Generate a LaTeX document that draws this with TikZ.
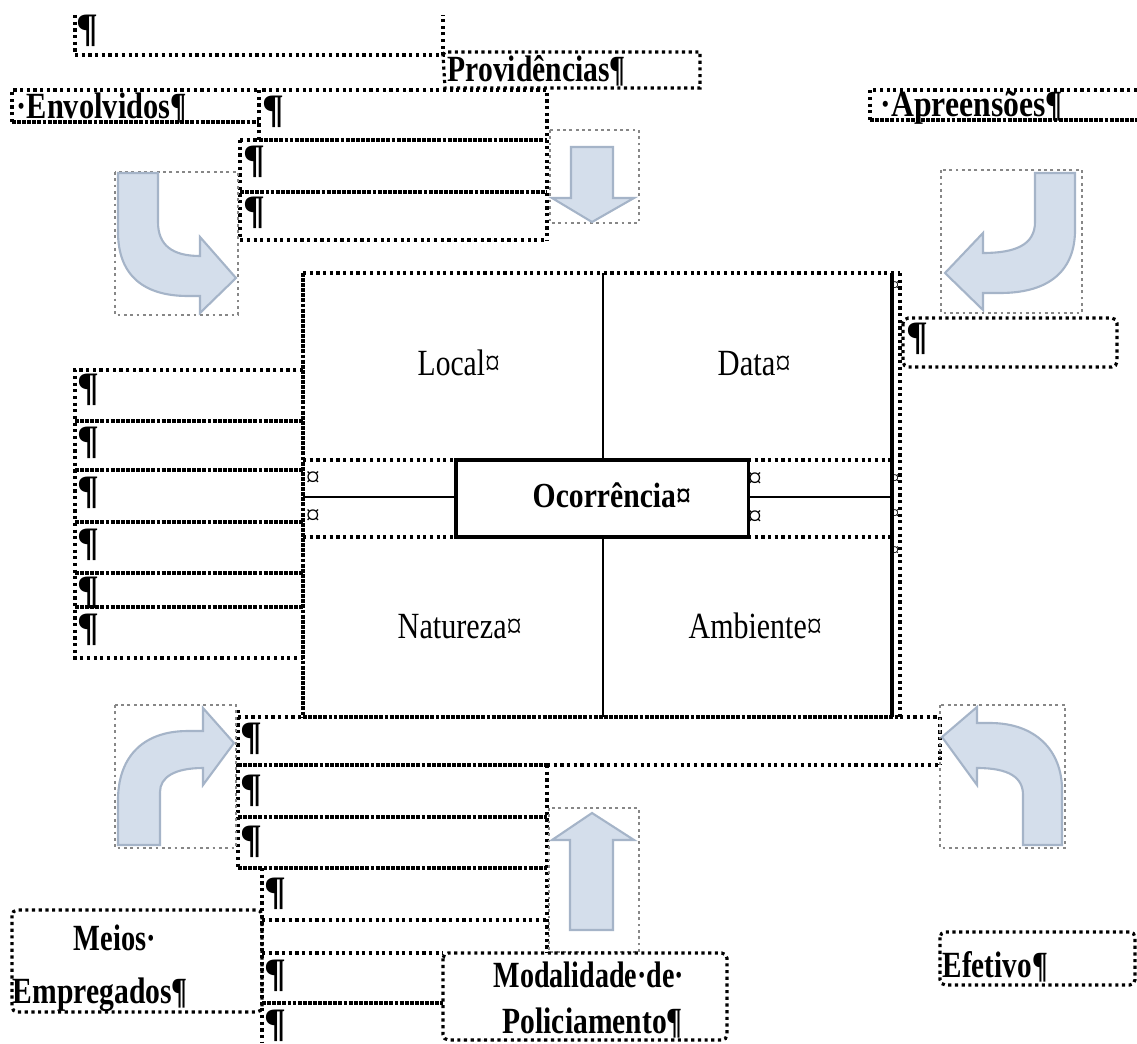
\documentclass[tikz,border=0pt]{standalone}
\usepackage{fontspec}
\setmainfont{Liberation Serif}
\usepackage{graphicx}
\newdimen\pxu \pxu=0.28453pt
\newcommand{\fitx}[2]{\resizebox{#1\pxu}{\height}{#2}}
\definecolor{arrowfill}{RGB}{212,222,235}
\definecolor{arrowedge}{RGB}{165,180,200}
\definecolor{framegray}{RGB}{135,135,135}
\tikzset{
  dotb/.style={densely dotted, line width=0.9pt},
  wavy/.style={line width=1.1pt, dash pattern=on 1.1pt off 0.35pt},
  tline/.style={line width=0.8pt},
  picframe/.style={draw=framegray, densely dotted, line width=0.8pt},
  bendarrow/.style={fill=arrowfill, draw=arrowedge, line width=0.6pt},
  lbl/.style={anchor=base west, inner sep=0pt, font=\fontsize{10.5}{12}\selectfont\bfseries},
  reg/.style={anchor=base west, inner sep=0pt, font=\fontsize{10.5}{12}\selectfont},
  pil/.style={anchor=north west, inner sep=0pt, font=\fontsize{11.5}{13}\selectfont\bfseries},
  cur/.style={inner sep=0pt, font=\fontsize{8}{9}\selectfont},
}
\begin{document}
\begin{tikzpicture}[x=0.01cm, y=-0.01cm]
\fill[white] (0,0) rectangle (1137,1043);
\useasboundingbox (0,0) rectangle (1137,1043);

% ---------- top area ----------
\draw[dotb] (75,15) -- (75,55) -- (443,55) -- (443,15);
\node[pil] (ptl) at (76,14) {¶};
\draw[dotb] (443,55) -- (445,52) -- (700,52) -- (700,88) -- (445,88) -- (443,55);
\node[lbl] (prov) at (447,82) {\fitx{178}{Providências¶}};

\draw[dotb] (12,122) -- (12,90) -- (259,90);
\draw[wavy] (12,122) -- (259,122);
\node[lbl] (env) at (16,119) {\fitx{170}{·Envolvidos¶}};

\draw[dotb] (259,140) -- (259,90) -- (547,90) -- (547,240);
\draw[wavy] (259,140) -- (547,140);
\draw[wavy] (240,192) -- (547,192);
\draw[dotb] (240,140) -- (240,240) -- (547,240);
\draw[dotb] (240,140) -- (259,140);
\node[pil] (pa) at (262,95) {¶};
\node[pil] (pb) at (243,145) {¶};
\node[pil] (pc) at (243,196) {¶};

% down arrow picture
\draw[picframe] (550,130) rectangle (639,223);
\draw[bendarrow] (571,147) -- (613,147) -- (613,198) -- (634,198) -- (592,222) -- (552,198) -- (571,198) -- cycle;

% top-left bent arrow
\draw[picframe] (115,172) rectangle (238,315);
\draw[bendarrow] (118,173) -- (158,173) -- (158,222) .. controls (158,245) and (172,256) .. (200,256) -- (200,237) -- (236,278) -- (200,313) -- (200,296) -- (188,296) .. controls (140,296) and (118,272) .. (118,232) -- cycle;

% Apreensoes
\draw[dotb] (1137,90) -- (870,90) -- (870,120);
\draw[wavy] (870,120) -- (1137,120);
\node[lbl] (apr) at (880,117) {\fitx{182}{·Apreensões¶}};

% top-right bent arrow
\draw[picframe] (941,170) rectangle (1082,313);
\draw[bendarrow] (1075,173) -- (1035,173) -- (1035,222) .. controls (1035,245) and (1015,253) .. (983,253) -- (983,233) -- (945,273) -- (983,310) -- (983,293) -- (1000,293) .. controls (1050,293) and (1075,270) .. (1075,230) -- cycle;

% right small box
\draw[dotb, rounded corners=1.5pt] (903,318) rectangle (1117,367);
\node[pil] (pr) at (906,322) {¶};

% ---------- table ----------
\draw[dotb] (303,273) -- (900,273);
\draw[wavy] (303,273) -- (303,717);
\draw[wavy] (303,717) -- (900,717);
\draw[line width=1.3pt] (892,273) -- (892,717);
\draw[dotb] (900,273) -- (900,717);
\draw[tline] (603,273) -- (603,460);
\draw[tline] (603,537) -- (603,717);
\draw[dotb] (303,460) -- (456,460);
\draw[dotb] (303,537) -- (456,537);
\draw[dotb] (748,460) -- (892,460);
\draw[dotb] (748,537) -- (892,537);
\draw[tline] (303,497) -- (456,497);
\draw[tline] (748,497) -- (892,497);
\node[draw, line width=0.9pt, minimum width=2.92cm, minimum height=0.77cm, inner sep=0pt] (occbox) at (602,498.5) {};
\node[lbl, font=\fontsize{10}{11}\selectfont\bfseries] (occ) at (532,507) {\fitx{158}{Ocorrência¤}};
\node[reg] (local) at (417,376) {\fitx{82}{Local¤}};
\node[reg] (data) at (717,376) {\fitx{73}{Data¤}};
\node[reg] (nat) at (397,638) {\fitx{124}{Natureza¤}};
\node[reg] (amb) at (688,638) {\fitx{133}{Ambiente¤}};
\node[cur] (c1) at (313,479) {¤};
\node[cur] (c2) at (313,517) {¤};
\node[cur] (c3) at (755,480) {¤};
\node[cur] (c4) at (755,518) {¤};
\foreach \yy [count=\i] in {285,478,513,550}
  \node[inner sep=0pt, font=\fontsize{5}{6}\selectfont, rotate=90] (rm\i) at (896,\yy) {¤};

% ---------- left stack ----------
\draw[dotb] (303,370) -- (75,370) -- (75,658) -- (303,658);
\foreach \yy in {421,470,522,573,607}
  \draw[wavy] (75,\yy) -- (303,\yy);
\foreach \yy [count=\i] in {373,426,476,528,576,613}
  \node[pil] (pl\i) at (77,\yy) {¶};

% ---------- bottom area ----------
\draw[dotb] (238,710) -- (238,868);
\draw[dotb] (238,717) -- (303,717);
\draw[dotb] (900,717) -- (940,717) -- (940,765);
\draw[wavy] (238,765) -- (547,765);
\draw[dotb] (547,765) -- (940,765);
\draw[dotb] (547,765) -- (547,953);
\draw[wavy] (238,817) -- (547,817);
\draw[wavy] (238,868) -- (547,868);
\draw[dotb] (262,868) -- (262,1043);
\draw[dotb] (262,920) -- (547,920);
\draw[dotb] (262,953) -- (443,953);
\draw[wavy] (262,1003) -- (443,1003);
\node[pil] (pd1) at (240,722) {¶};
\node[pil] (pd2) at (240,774) {¶};
\node[pil] (pd3) at (240,825) {¶};
\node[pil] (pd4) at (264,877) {¶};
\node[pil] (pd5) at (264,959) {¶};
\node[pil] (pd6) at (264,1009) {¶};

% up arrow picture
\draw[picframe] (549,808) rectangle (639,952);
\draw[bendarrow] (592,813) -- (634,840) -- (613,840) -- (613,930) -- (570,930) -- (570,840) -- (552,840) -- cycle;

% bottom-left bent arrow
\draw[picframe] (115,705) rectangle (236,848);
\draw[bendarrow] (118,845) -- (160,845) -- (160,792) .. controls (160,777) and (175,768) .. (203,768) -- (203,785) -- (234,743) -- (203,708) -- (203,731) -- (188,731) .. controls (140,731) and (118,760) .. (118,800) -- cycle;

% bottom-right bent arrow
\draw[picframe] (940,705) rectangle (1065,848);
\draw[bendarrow] (1062,845) -- (1023,845) -- (1023,795) .. controls (1023,778) and (1010,768) .. (977,768) -- (977,785) -- (942,737) -- (977,707) -- (977,723) -- (990,723) .. controls (1035,723) and (1062,750) .. (1062,790) -- cycle;

% Meios Empregados
\draw[dotb, rounded corners=1.5pt] (12,910) rectangle (262,1012);
\node[lbl] (meios) at (73,950) {\fitx{82}{Meios·}};
\node[lbl] (emp) at (12,1003) {\fitx{175}{Empregados¶}};

% Modalidade de Policiamento
\draw[dotb, rounded corners=1.5pt] (443,953) rectangle (727,1040);
\node[lbl] (mod) at (493,987) {\fitx{190}{Modalidade·de·}};
\node[lbl] (pol) at (502,1033) {\fitx{180}{Policiamento¶}};

% Efetivo
\draw[dotb, rounded corners=1.5pt] (940,932) rectangle (1135,985);
\node[lbl] (efe) at (942,977) {\fitx{105}{Efetivo¶}};
\end{tikzpicture}
\end{document}
